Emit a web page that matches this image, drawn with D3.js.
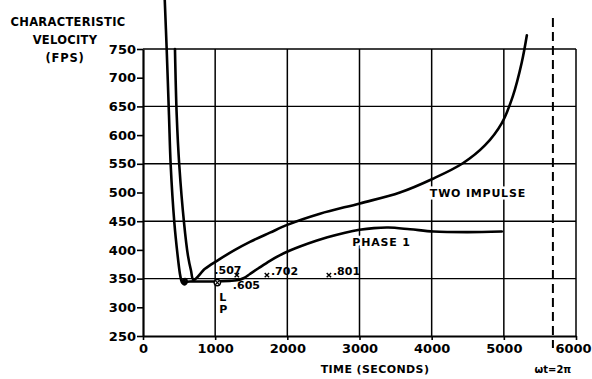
<!DOCTYPE html>
<html>
<head>
<meta charset="utf-8">
<script src="https://cdn.jsdelivr.net/npm/d3@7/dist/d3.min.js"></script>
<style>
  html, body { margin: 0; padding: 0; background: #fff; }
  svg { display: block; }
  text { font-family: "DejaVu Sans", sans-serif; font-weight: bold; fill: #000; }
</style>
</head>
<body>
<svg id="chart" width="592" height="379"></svg>
<script>
// Time axis (seconds) and characteristic velocity axis (ft/s)
const xTicks = [0, 1000, 2000, 3000, 4000, 5000, 6000];
const yTicks = [250, 300, 350, 400, 450, 500, 550, 600, 650, 700, 750];
const yGrid = [350, 450, 550, 650, 750];
const xGrid = [1000, 2000, 3000, 4000, 5000, 6000];

// Phase 1 transfer: time (s) and characteristic velocity (fps)
const phase1Time = [300, 328, 360, 384, 434, 480, 512, 530, 548, 575, 598, 606, 590, 566, 560, 580,
                    650, 800, 1000, 1200, 1300, 1400, 1482, 1600, 1759, 1900, 2036, 2175, 2400, 2556,
                    2800, 3000, 3200, 3400, 3700, 4028, 4500, 4972];
const phase1Vel  = [840, 750, 635, 547, 448, 390, 358, 347, 342, 340, 342, 346, 349, 348, 345, 344,
                    345, 345, 345, 346, 347, 351, 358, 368, 381, 391, 399, 406, 416, 422,
                    430, 435, 438, 439, 436, 432, 431, 432];

// Two impulse transfer
const twoImpTime = [443, 467, 503, 568, 623, 665, 700, 859, 1025, 1274, 1482, 1759, 2008, 2452,
                    3006, 3560, 4017, 4432, 4737, 4972, 5125, 5249, 5319];
const twoImpVel  = [750, 635, 547, 448, 390, 364, 348, 367, 381, 400, 414, 430, 444, 463,
                    481, 500, 524, 551, 582, 621, 668, 727, 774];

// Marked points along the Phase 1 curve
const markTime  = [1300, 1717, 2576];
const markLabel = [".605", ".702", ".801"];
const launchTime = 1030, launchVel = 343, launchLabel = ".507";

const periodTime = 5680;   // ωt = 2π

const svg = d3.select("#chart");
const x = d3.scaleLinear().domain([0, 6000]).range([143, 576]);
const y = d3.scaleLinear().domain([250, 750]).range([336, 49]);

// grid
svg.append("g").selectAll("line").data(yGrid).join("line")
  .attr("x1", x(0)).attr("x2", x(6000))
  .attr("y1", d => y(d)).attr("y2", d => y(d))
  .attr("stroke", "#000").attr("stroke-width", 1.4);
svg.append("g").selectAll("line").data(xGrid).join("line")
  .attr("x1", d => x(d)).attr("x2", d => x(d))
  .attr("y1", y(250)).attr("y2", y(750))
  .attr("stroke", "#000").attr("stroke-width", 1.5);

// period marker
svg.append("line")
  .attr("x1", x(periodTime)).attr("x2", x(periodTime))
  .attr("y1", 18).attr("y2", 348)
  .attr("stroke", "#000").attr("stroke-width", 2)
  .attr("stroke-dasharray", "9,5");

// axes
const yAxis = svg.append("g").attr("transform", `translate(${x(0)},0)`)
  .call(d3.axisLeft(y).tickValues(yTicks).tickSize(6).tickSizeOuter(0).tickPadding(1));
const xAxis = svg.append("g").attr("transform", `translate(0,${y(250)})`)
  .call(d3.axisBottom(x).tickValues(xTicks).tickFormat(d3.format("d"))
    .tickSize(4).tickSizeOuter(0).tickPadding(4));
[yAxis, xAxis].forEach(g => {
  g.select(".domain").attr("stroke", "#000").attr("stroke-width", 2.2);
  g.selectAll(".tick line").attr("stroke", "#000").attr("stroke-width", 1.6);
  g.selectAll(".tick text").style("font-family", "DejaVu Sans, sans-serif")
    .style("font-weight", "bold").style("font-size", "13px").attr("fill", "#000");
});
// keep the last time label inside the frame
xAxis.selectAll(".tick text").filter(d => d === 6000).attr("dx", "-3");

// curves
const line = d3.line().x(d => x(d[0])).y(d => y(d[1])).curve(d3.curveCatmullRom.alpha(0.5));
svg.append("path").datum(d3.zip(phase1Time, phase1Vel))
  .attr("d", line).attr("fill", "none").attr("stroke", "#000")
  .attr("stroke-width", 2.6).attr("stroke-linejoin", "round").attr("stroke-linecap", "round");
svg.append("path").datum(d3.zip(twoImpTime, twoImpVel))
  .attr("d", line).attr("fill", "none").attr("stroke", "#000")
  .attr("stroke-width", 2.6).attr("stroke-linejoin", "round").attr("stroke-linecap", "round");

// curve labels (white backing breaks the grid lines)
function label(t, v, txt, size) {
  svg.append("text").attr("x", x(t)).attr("y", y(v))
    .attr("font-size", size).attr("letter-spacing", "0.8")
    .attr("stroke", "#fff").attr("stroke-width", 5).attr("paint-order", "stroke")
    .text(txt);
}
label(3975, 492, "TWO IMPULSE", "11px");
label(2900, 407, "PHASE 1", "11px");

// launch point
const lp = svg.append("g").attr("transform", `translate(${x(launchTime)},${y(launchVel)})`);
lp.append("circle").attr("r", 3.2).attr("fill", "#fff").attr("stroke", "#000").attr("stroke-width", 1.5);
lp.append("path").attr("d", "M-2,-2L2,2M-2,2L2,-2").attr("stroke", "#000").attr("stroke-width", 1.2);
svg.append("text").attr("x", x(launchTime) - 3).attr("y", y(launchVel) - 9)
  .attr("font-size", "11px").text(launchLabel);
svg.append("text").attr("x", x(launchTime) + 2).attr("y", y(launchVel) + 18)
  .attr("font-size", "11px").text("L");
svg.append("text").attr("x", x(launchTime) + 2).attr("y", y(launchVel) + 30)
  .attr("font-size", "11px").text("P");

// period fraction marks
const marks = svg.append("g").selectAll("g").data(d3.zip(markTime, markLabel)).join("g")
  .attr("transform", d => `translate(${x(d[0])},${y(356)})`);
marks.append("path").attr("d", "M-2.2,-2.2L2.2,2.2M-2.2,2.2L2.2,-2.2").attr("stroke", "#000").attr("stroke-width", 1.4);
marks.append("text")
  .attr("x", (d, i) => i === 0 ? -4 : 4)
  .attr("y", (d, i) => i === 0 ? 14 : 0)
  .attr("font-size", "11px").text(d => d[1]);

// titles
const yt = svg.append("g").attr("font-size", "11.5px").attr("text-anchor", "middle");
yt.append("text").attr("x", 68).attr("y", 26).attr("letter-spacing", "0.3").text("CHARACTERISTIC");
yt.append("text").attr("x", 65).attr("y", 44).attr("letter-spacing", "0.3").text("VELOCITY");
yt.append("text").attr("x", 65).attr("y", 62).attr("letter-spacing", "0.8").text("(FPS)");
svg.append("text").attr("x", 375).attr("y", 373).attr("font-size", "11px")
  .attr("text-anchor", "middle").attr("letter-spacing", "0.4").text("TIME (SECONDS)");
svg.append("text").attr("x", x(periodTime)).attr("y", 373).attr("font-size", "10px")
  .attr("text-anchor", "middle").text("ωt=2π");
</script>
</body>
</html>
